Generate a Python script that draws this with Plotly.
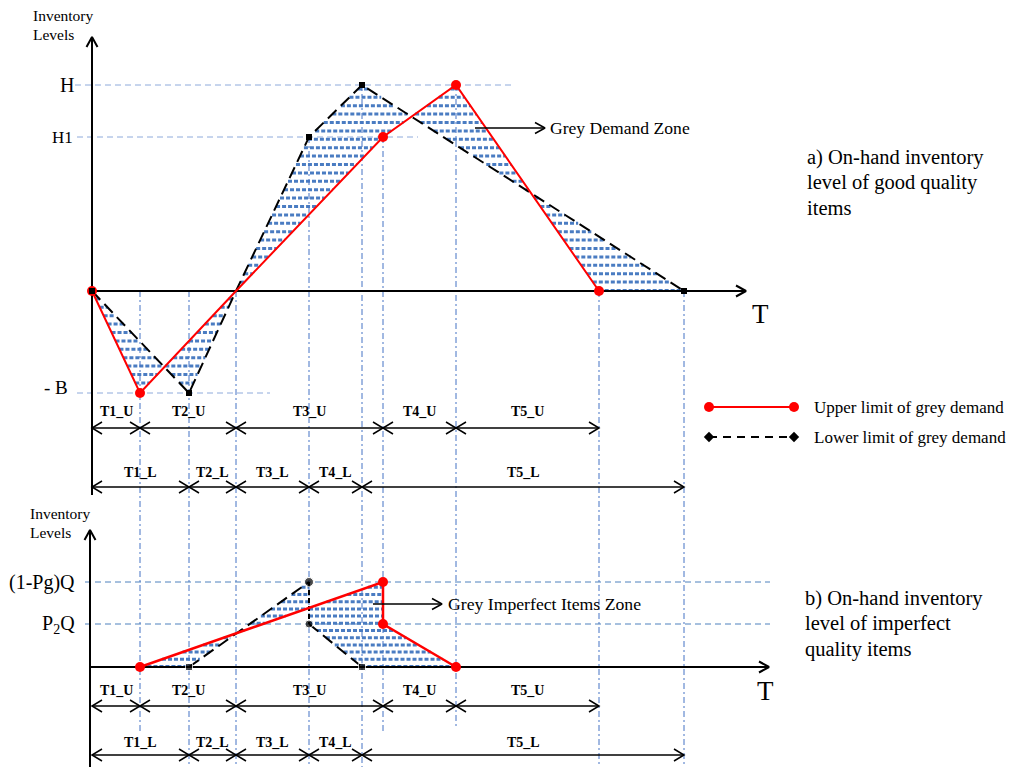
import numpy as np
import plotly.graph_objects as go

# ---------------- data (pixel-scaled model units) ----------------
T_U = [48, 96, 147, 73, 143]            # T1_U .. T5_U  (upper limit durations)
T_L = [97, 47, 73, 53, 322]             # T1_L .. T5_L  (lower limit durations)
U_LABELS = ["T1_U", "T2_U", "T3_U", "T4_U", "T5_U"]
L_LABELS = ["T1_L", "T2_L", "T3_L", "T4_L", "T5_L"]
H, H1, B = 206, 154, 102                # panel a levels
Q_TOP, P2Q = 85, 43                     # panel b levels: (1-Pg)Q and P2Q
GOOD_LEVELS = [0, -B, 0, H1, H, 0]      # good items level at each breakpoint
IMP_LEVELS = [0, Q_TOP, P2Q, 0]         # imperfect items level at breakpoints 1,3,3,4

tu = np.cumsum([0] + T_U).tolist()
tl = np.cumsum([0] + T_L).tolist()

# pixel helpers for decorations (1 data unit == 1 px)
def X(px): return px - 92
def YT(py): return 291 - py
def YB(py): return 667 - py

FONT = "Liberation Serif, Times New Roman, serif"
RED = "#ff0000"
GUIDE = "#4472c4"
fig = go.Figure()

def seg_trace(xs, ys, color, width, dash="solid", yaxis="y"):
    fig.add_trace(go.Scatter(x=xs, y=ys, mode="lines", yaxis=yaxis, hoverinfo="skip",
                             line=dict(color=color, width=width, dash=dash), showlegend=False))

def vhead(tx, ty, dx, dy, L=10, W=5.5):
    nx, ny = -dy, dx
    return ([tx - L * dx + W * nx, tx, tx - L * dx - W * nx, None],
            [ty - L * dy + W * ny, ty, ty - L * dy - W * ny, None])

# ---------------- shaded grey zones (dotted hatch rows clipped to the zone) ----------------
def hatch(px, py, step, yaxis):
    n = len(px)
    ymin, ymax = min(py), max(py)
    xs, ys = [], []
    lv = np.arange(np.floor(ymin / step) * step + 0.5, ymax, step)
    for y in lv:
        cuts = []
        for i in range(n):
            x1, y1, x2, y2 = px[i], py[i], px[(i + 1) % n], py[(i + 1) % n]
            if y1 == y2:
                continue
            if min(y1, y2) <= y < max(y1, y2):
                cuts.append(x1 + (y - y1) * (x2 - x1) / (y2 - y1))
        cuts.sort()
        for a, b in zip(cuts[0::2], cuts[1::2]):
            if b - a > 1:
                xs += [a, b, None]; ys += [y, y, None]
    seg_trace(xs, ys, "#4a7cc2", 3, "4px,2px", yaxis)

top_poly_x = tu + tl[::-1]
top_poly_y = GOOD_LEVELS + GOOD_LEVELS[::-1]
bx_u = [tu[1], tu[3], tu[3], tu[4]]
bx_l = [tl[1], tl[3], tl[3], tl[4]]
bot_poly_x = bx_u + bx_l[::-1]
bot_poly_y = IMP_LEVELS + IMP_LEVELS[::-1]
hatch(top_poly_x, top_poly_y, 8.4, "y")
hatch(bot_poly_x, bot_poly_y, 7.2, "y2")

# ---------------- vertical guides ----------------
guides = [(tu[1], 0, 733), (tl[1], 0, 767), (tu[2], 0, 767), (tl[3], H1, 767), (tl[4], H, 767),
          (tu[3], H1, 733), (tu[4], H, 729), (tu[5], 0, 766), (tl[5], 0, 767)]
gx, gy = [], []
for x, lv, pb in guides:
    gx += [x, x, None]; gy += [lv, YT(pb), None]
seg_trace(gx, gy, GUIDE, 1, "6px,3px,2px,3px")

# ---------------- horizontal level guides ----------------
seg_trace([X(75), X(515), None, X(77), X(418), None, X(77), X(270)],
          [H, H, None, H1, H1, None, -B, -B], "#8eaadb", 1, "6px,4px")
seg_trace([X(85), X(770), None, X(85), X(770)],
          [Q_TOP, Q_TOP, None, P2Q, P2Q], "#4f81bd", 1, "6px,4px", "y2")

# ---------------- axes ----------------
ax, ay = [0, 0, None, 0, X(746), None], [YT(495), YT(37), None, 0, 0, None]
hx, hy = vhead(0, YT(37), 0, 1); ax += hx; ay += hy
hx, hy = vhead(X(746), 0, 1, 0); ax += hx; ay += hy
seg_trace(ax, ay, "black", 2)
bxs, bys = [X(90), X(90), None, X(90), X(769), None], [YB(767), YB(530), None, 0, 0, None]
hx, hy = vhead(X(90), YB(530), 0, 1); bxs += hx; bys += hy
hx, hy = vhead(X(769), 0, 1, 0); bxs += hx; bys += hy
seg_trace(bxs, bys, "black", 2, yaxis="y2")

# ---------------- curves ----------------
seg_trace(tl, GOOD_LEVELS, "black", 2, "12px,6px")
seg_trace(tu, GOOD_LEVELS, RED, 2)
seg_trace(bx_l[:2], IMP_LEVELS[:2], "black", 2, "12px,6px", "y2")
seg_trace(bx_l[1:3], IMP_LEVELS[1:3], "black", 2, "5px,3px", "y2")
seg_trace(bx_l[2:], IMP_LEVELS[2:], "black", 2, "12px,6px", "y2")
seg_trace(bx_u, IMP_LEVELS, RED, 2.5, yaxis="y2")

mk = [0, 1, 3, 4, 5]
fig.add_trace(go.Scatter(x=[tu[i] for i in mk], y=[GOOD_LEVELS[i] for i in mk], mode="markers",
                         marker=dict(color=RED, size=10), hoverinfo="skip", showlegend=False))
fig.add_trace(go.Scatter(x=[tl[i] for i in mk], y=[GOOD_LEVELS[i] for i in mk], mode="markers",
                         marker=dict(color="black", size=6, symbol="square"), hoverinfo="skip",
                         showlegend=False))
fig.add_trace(go.Scatter(x=bx_u, y=IMP_LEVELS, mode="markers", yaxis="y2",
                         marker=dict(color=RED, size=10), hoverinfo="skip", showlegend=False))
fig.add_trace(go.Scatter(x=bx_l, y=IMP_LEVELS, mode="markers", yaxis="y2",
                         marker=dict(color="black", size=[7, 9, 8, 7],
                                     symbol=["square", "circle", "circle", "square"]),
                         hoverinfo="skip", showlegend=False))

# ---------------- interval arrows ----------------
def interval_rows(bps, level, yaxis):
    xs, ys = [], []
    for a, b in zip(bps[:-1], bps[1:]):
        xs += [a, b, None]; ys += [level, level, None]
        hx, hy = vhead(a, level, -1, 0, 10, 6); xs += hx; ys += hy
        hx, hy = vhead(b, level, 1, 0, 10, 6); xs += hx; ys += hy
    seg_trace(xs, ys, "black", 1.5, yaxis=yaxis)

interval_rows(tu, YT(428), "y")
interval_rows(tl, YT(487), "y")
interval_rows(tu, YB(706), "y2")
interval_rows(tl, YB(755), "y2")

ann = []
def txt(x, y, s, size, yref="y", xanchor="center", bold=False):
    ann.append(dict(x=x, y=y, xref="x", yref=yref, text=("<b>%s</b>" % s) if bold else s,
                    showarrow=False, xanchor=xanchor, yanchor="middle",
                    font=dict(family=FONT, size=size, color="black")))

for i in range(5):
    txt((tu[i] + tu[i + 1]) / 2, YT(411), U_LABELS[i], 14, bold=True)
    txt((tl[i] + tl[i + 1]) / 2, YT(472), L_LABELS[i], 14, bold=True)
    txt((tu[i] + tu[i + 1]) / 2, YB(690), U_LABELS[i], 14, "y2", bold=True)
    txt((tl[i] + tl[i + 1]) / 2, YB(742), L_LABELS[i], 14, "y2", bold=True)

# level labels
txt(X(76), H, "H", 20, xanchor="right")
txt(X(75), H1, "H1", 17, xanchor="right")
txt(X(70), -B + 6, "- B", 19, xanchor="right")
txt(X(77), Q_TOP, "(1-Pg)Q", 20, "y2", xanchor="right")
txt(X(77), P2Q, "P<sub>2</sub>Q", 20, "y2", xanchor="right")
txt(X(760), YT(314), "T", 27)
txt(X(765), YB(691), "T", 27, "y2")
for k, s in enumerate(["Inventory", "Levels"]):
    txt(X(31), YT(15 + 19 * k), s, 15.5, xanchor="left")
    txt(X(28), YB(513 + 19 * k), s, 15.5, "y2", xanchor="left")

# zone pointers
zx, zy = [X(475), X(545), None], [YT(128), YT(128), None]
hx, hy = vhead(X(545), YT(128), 1, 0, 10, 5.5); zx += hx; zy += hy
seg_trace(zx, zy, "black", 1.5)
txt(X(548), YT(128), "Grey Demand Zone", 17.6, xanchor="left")
zx, zy = [X(373), X(442), None], [YB(604), YB(604), None]
hx, hy = vhead(X(442), YB(604), 1, 0, 10, 5.5); zx += hx; zy += hy
seg_trace(zx, zy, "black", 1.5, yaxis="y2")
txt(X(446), YB(604), "Grey Imperfect Items Zone", 17.7, "y2", xanchor="left")

# captions
for k, s in enumerate(["a) On-hand inventory", "level of good quality", "items"]):
    txt(X(805), YT(157 + 25.5 * k), s, 20.5, xanchor="left")
for k, s in enumerate(["b) On-hand inventory", "level of imperfect", "quality items"]):
    txt(X(803), YT(598 + 25.5 * k), s, 20.5, xanchor="left")

# legend (drawn by hand)
seg_trace([X(709), X(794)], [YT(407), YT(407)], RED, 2)
fig.add_trace(go.Scatter(x=[X(709), X(794)], y=[YT(407), YT(407)], mode="markers",
                         marker=dict(color=RED, size=10), hoverinfo="skip", showlegend=False))
seg_trace([X(709), X(794)], [YT(437), YT(437)], "black", 2, "8px,6px")
fig.add_trace(go.Scatter(x=[X(709), X(794)], y=[YT(437), YT(437)], mode="markers",
                         marker=dict(color="black", size=8, symbol="diamond"), hoverinfo="skip",
                         showlegend=False))
txt(X(812), YT(407), "Upper limit of grey demand", 17, xanchor="left")
txt(X(812), YT(437), "Lower limit of grey demand", 17, xanchor="left")

fig.update_layout(
    width=1014, height=767, autosize=False, margin=dict(l=0, r=0, t=0, b=0),
    paper_bgcolor="white", plot_bgcolor="white", annotations=ann,
    xaxis=dict(range=[X(0), X(1014)], visible=False, fixedrange=True),
    yaxis=dict(range=[YT(767), YT(0)], visible=False, fixedrange=True, domain=[0, 1]),
    yaxis2=dict(range=[YB(767), YB(0)], visible=False, fixedrange=True, overlaying="y"),
)
fig.write_html("out.html", post_script="document.body.style.margin='0';",
               config={"displayModeBar": False})
